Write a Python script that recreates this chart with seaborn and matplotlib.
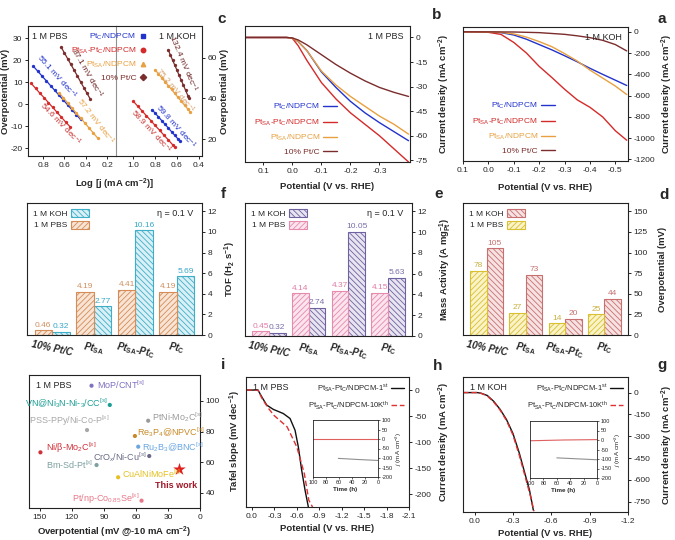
import numpy as np
import pandas as pd
import matplotlib
matplotlib.use("Agg")
import matplotlib.pyplot as plt
import seaborn as sns
from matplotlib.lines import Line2D
from matplotlib.patches import Patch
from matplotlib.ticker import FormatStrFormatter

# ---------------------------------------------------------------- data
names4 = ["Pt$_{\\mathrm{C}}$/NDPCM", "Pt$_{\\mathrm{SA}}$-Pt$_{\\mathrm{C}}$/NDPCM",
          "Pt$_{\\mathrm{SA}}$/NDPCM", "10% Pt/C"]
c_blue, c_red, c_orange, c_dred = "#2233cc", "#d42a2a", "#e8a040", "#7b2c2c"

# (a) LSV, 1 M KOH  (potential V vs RHE, current mA cm-2)
a_pot_ptc = [0.10, 0.00, -0.05, -0.10, -0.15, -0.20, -0.25, -0.30, -0.35, -0.40, -0.45, -0.50, -0.545]
a_cur_ptc = [0, -2, -8, -30, -70, -120, -170, -225, -282, -343, -400, -455, -505]
a_pot_ptsaptc = [0.10, 0.05, 0.00, -0.05, -0.10, -0.15, -0.20, -0.25, -0.30, -0.35, -0.40, -0.45, -0.50, -0.545]
a_cur_ptsaptc = [0, -1, -5, -25, -100, -200, -325, -430, -540, -640, -710, -800, -930, -1020]
a_pot_ptsa = [0.10, 0.00, -0.05, -0.10, -0.15, -0.20, -0.25, -0.30, -0.35, -0.40, -0.45, -0.50, -0.545]
a_cur_ptsa = [0, -1, -5, -20, -50, -92, -140, -205, -275, -360, -435, -510, -590]
a_pot_ptcc = [0.10, -0.10, -0.20, -0.30, -0.35, -0.40, -0.45, -0.50, -0.545]
a_cur_ptcc = [0, -2, -8, -24, -38, -55, -80, -120, -180]

# (b) LSV, 1 M PBS
b_pot = [0.163, 0.05, 0.02, 0.00, -0.02, -0.05, -0.10, -0.15, -0.20, -0.25, -0.30, -0.35, -0.40]
b_cur_ptc = [0, 0, 0, -0.3, -2.5, -8, -21, -30.5, -39, -46, -52, -57.5, -63]
b_cur_ptsaptc = [0, 0, 0, -0.5, -5, -14, -27.5, -37.5, -46, -53, -60, -68, -76]
b_cur_ptsa = [0, 0, 0, -0.3, -2.5, -8, -20.5, -29, -36, -42, -48, -53, -59]
b_cur_ptcc = [0, 0, 0, -0.3, -1.5, -4.5, -10.5, -16.5, -21.8, -26.5, -30.5, -33.5, -36]

# (c) Tafel plots  (log j, overpotential mV)
c_pbs_x_ptc = [0.89, 0.85, 0.81, 0.77, 0.73, 0.69, 0.65, 0.61, 0.57, 0.53, 0.49, 0.45]
c_pbs_y_ptc = [17.3, 15.1, 12.9, 10.7, 8.5, 6.3, 4.1, 1.9, -0.3, -2.5, -4.7, -6.9]
c_pbs_x_ptsaptc = [0.91, 0.87, 0.83, 0.79, 0.75, 0.71, 0.67, 0.63, 0.59, 0.55]
c_pbs_y_ptsaptc = [9.5, 7.3, 5.1, 3.0, 0.8, -1.4, -3.6, -5.8, -8.0, -10.1]
c_pbs_x_ptsa = [0.65, 0.61, 0.57, 0.53, 0.49, 0.45, 0.41, 0.37, 0.33, 0.29]
c_pbs_y_ptsa = [5.2, 2.9, 0.6, -1.7, -4.0, -6.2, -8.5, -10.8, -13.1, -15.4]
c_pbs_x_ptcc = [0.63, 0.60, 0.57, 0.54, 0.51, 0.48, 0.45, 0.42, 0.39, 0.36]
c_pbs_y_ptcc = [25.9, 23.3, 20.7, 18.1, 15.5, 12.9, 10.2, 7.6, 5.0, 2.4]
c_koh_x_ptc = [0.83, 0.80, 0.77, 0.74, 0.71, 0.68, 0.65, 0.62, 0.59, 0.57]
c_koh_y_ptc = [34.6, 32.8, 31.0, 29.2, 27.4, 25.6, 23.8, 22.0, 20.2, 19.0]
c_koh_x_ptsaptc = [1.00, 0.96, 0.92, 0.88, 0.84, 0.80, 0.76, 0.72, 0.68, 0.64, 0.62]
c_koh_y_ptsaptc = [38.6, 36.2, 33.9, 31.5, 29.2, 26.8, 24.5, 22.1, 19.8, 17.4, 16.2]
c_koh_x_ptsa = [0.80, 0.77, 0.74, 0.71, 0.68, 0.65, 0.62, 0.59, 0.56, 0.53, 0.50, 0.48]
c_koh_y_ptsa = [54.0, 52.0, 50.1, 48.2, 46.3, 44.4, 42.5, 40.5, 38.6, 36.7, 34.8, 33.5]
c_koh_x_ptcc = [0.68, 0.66, 0.64, 0.62, 0.60, 0.58, 0.56, 0.54, 0.52, 0.50, 0.49]
c_koh_y_ptcc = [63.7, 61.2, 58.7, 56.3, 53.8, 51.3, 48.8, 46.4, 43.9, 41.4, 40.2]
c_slopes_pbs = ["55.1", "54.6", "57.2", "87.1"]
c_slopes_koh = ["59.8", "58.9", "75.2", "132.4"]

# (d)-(f) bar charts
bar_cats = ["PtC", "PtSA-PtC", "PtSA", "10% Pt/C"]
bar_ticklabels = ["Pt$_{\\mathbf{C}}$", "Pt$_{\\mathbf{SA}}$-Pt$_{\\mathbf{C}}$",
                  "Pt$_{\\mathbf{SA}}$", "10% Pt/C"]
d_koh = [44, 20, 73, 105]
d_pbs = [25, 14, 27, 78]
e_koh = [5.63, 10.05, 2.74, 0.32]
e_pbs = [4.15, 4.37, 4.14, 0.45]
f_koh = [5.69, 10.16, 2.77, 0.32]
f_pbs = [4.19, 4.41, 4.19, 0.46]

# (g) stability, 1 M KOH
g_pot_1st = [0.09, -0.02, -0.05, -0.10, -0.15, -0.20, -0.25, -0.30, -0.35, -0.40, -0.43, -0.46]
g_cur_1st = [0, 0, -4, -20, -60, -115, -185, -280, -415, -575, -670, -808]
g_pot_10k = [0.09, -0.02, -0.05, -0.10, -0.15, -0.20, -0.25, -0.30, -0.35, -0.40, -0.44, -0.465]
g_cur_10k = [0, 0, -5, -23, -65, -120, -192, -290, -430, -590, -720, -815]
g_t_red = [0, 50, 100]
g_j_red = [2, 0, -4]
g_t_gray = [0, 30, 60]
g_j_gray = [-104, -99, -94]

# (h) stability, 1 M PBS
h_pot_1st = [0.08, -0.08, -0.13, -0.197, -0.285, -0.419, -0.509, -0.576, -0.62, -0.665, -0.71, -0.754]
h_cur_1st = [0, 0, -12.8, -28.8, -37, -45, -54.5, -77, -109, -154, -192, -224]
h_pot_10k = [0.08, -0.08, -0.13, -0.21, -0.29, -0.47, -0.60, -0.70, -0.76, -0.81]
h_cur_10k = [0, 0, -15, -33, -48, -70.5, -109, -160, -211, -224]
h_t_red = [0, 50, 100]
h_j_red = [0, 0, 0]
h_t_gray = [0, 30, 61]
h_j_gray = [-113, -108, -102]

# (i) comparison
i_names = ["MoP/CNT$^{[s]}$", "VN@Ni$_3$N-Ni-$_3$/CC$^{[s]}$", "PtNi-Mo$_2$C$^{[s]}$",
           "PSS-PPy/Ni-Co-P$^{[s]}$", "Re$_3$P$_4$@NPVC$^{[s]}$", "Ru$_2$B$_3$@BNC$^{[s]}$",
           "Ni/β-Mo$_2$C$^{[s]}$", "CrO$_x$/Ni-Cu$^{[s]}$", "Bm-Sd-Pt$^{[s]}$",
           "CuAlNiMoFe$^{[s]}$", "Pt/np-Co$_{0.85}$Se$^{[s]}$"]
i_eta = [101.5, 84.4, 48.5, 105.7, 60.9, 57.8, 149.3, 47.5, 96.8, 76.6, 54.7]
i_tafel = [110.0, 97.4, 87.1, 81.0, 77.1, 70.1, 66.4, 64.0, 58.1, 50.1, 34.8]
i_colors = ["#8070c0", "#1a9e94", "#9a9a9a", "#a8a8a8", "#c88a28", "#6aa6e0",
            "#d03038", "#6a6a88", "#7ea0a0", "#e6c020", "#e87888"]
this_eta = [19.4]
this_tafel = [55.3]

# ---------------------------------------------------------------- style
sns.set_style("ticks")
plt.rcParams["font.family"] = ["Liberation Sans", "DejaVu Sans"]
plt.rcParams.update({
    "mathtext.fontset": "custom", "mathtext.rm": "Liberation Sans",
    "mathtext.it": "Liberation Sans:italic", "mathtext.bf": "Liberation Sans:bold",
    "axes.unicode_minus": False, "hatch.linewidth": 0.6,
})

W, H = 675, 540
fig = plt.figure(figsize=(6.75, 5.4), dpi=100)


def box(l, t, r, b):
    return fig.add_axes([l / W, 1 - b / H, (r - l) / W, (b - t) / H])


def fx(x, y):
    return x / W, 1 - y / H


def style(ax, side="right", fs=6):
    for s in ax.spines.values():
        s.set_visible(True)
        s.set_linewidth(0.8)
        s.set_color("#222222")
    if side == "right":
        ax.yaxis.tick_right()
        ax.yaxis.set_label_position("right")
    ax.tick_params(labelsize=fs, length=2.5, width=0.7, pad=1.5, direction="out")


LBL = dict(fontsize=6.8, fontweight="bold")
cur_label = "Current density (mA cm$^{\\mathbf{-2}}$)"
pot_label = "Potential (V vs. RHE)"

# panel letters
for letter, (x, y) in zip("abcdefghi", [(662, 19), (437, 15), (222, 19), (664, 195), (439, 194),
                                       (223, 194), (662, 365), (438, 366), (223, 365)]):
    fig.text(*fx(x, y), letter, fontsize=11, fontweight="bold", ha="center", va="center")


# ---------------------------------------------------------------- (a), (b)
def lsv(ax, series, xlim, ylim, xticks, yticks, note, ylx, xly, fmt="%.1f"):
    style(ax)
    for lab, x, y, c in series:
        sns.lineplot(x=x, y=y, color=c, lw=1.0, ax=ax, sort=False, label=lab)
    ax.set_xlim(*xlim)
    ax.set_ylim(*ylim)
    ax.set_xticks(xticks)
    ax.set_yticks(yticks)
    ax.xaxis.set_major_formatter(FormatStrFormatter(fmt))
    ax.set_xlabel(pot_label, **LBL)
    ax.set_ylabel(cur_label, **LBL)
    ax.yaxis.set_label_coords(ylx, 0.5)
    ax.xaxis.set_label_coords(0.5, xly)
    ax.text(0.96, 0.955, note, transform=ax.transAxes, ha="right", va="top", fontsize=6.5)
    ax.legend(loc="lower right", bbox_to_anchor=(0.59, 0.0), markerfirst=False, frameon=False,
              fontsize=6, handlelength=1.6, labelspacing=0.62, handletextpad=0.4,
              labelcolor="linecolor", borderaxespad=0.3)


axA = box(463, 27, 628, 161)
lsv(axA, [(names4[0], a_pot_ptc, a_cur_ptc, c_blue),
          (names4[1], a_pot_ptsaptc, a_cur_ptsaptc, c_red),
          (names4[2], a_pot_ptsa, a_cur_ptsa, c_orange),
          (names4[3], a_pot_ptcc, a_cur_ptcc, c_dred)],
    (0.1, -0.55), (-1215, 45), [0.1, 0.0, -0.1, -0.2, -0.3, -0.4, -0.5],
    [0, -200, -400, -600, -800, -1000, -1200], "1 M KOH", 1.19, -0.165)

axB = box(245, 26, 410, 162)
lsv(axB, [(names4[0], b_pot, b_cur_ptc, c_blue),
          (names4[1], b_pot, b_cur_ptsaptc, c_red),
          (names4[2], b_pot, b_cur_ptsa, c_orange),
          (names4[3], b_pot, b_cur_ptcc, c_dred)],
    (0.163, -0.405), (-76, 7), [0.1, 0.0, -0.1, -0.2, -0.3],
    [0, -15, -30, -45, -60, -75], "1 M PBS", 1.16, -0.15)

# ---------------------------------------------------------------- (c)
axL = box(28, 26, 116, 156)
axR = box(116, 26, 202, 156)
style(axL, side="left")
style(axR, side="right")
axL.spines["right"].set_visible(False)
axR.spines["left"].set_color("#909090")
for ax, sets in [(axL, [(c_pbs_x_ptc, c_pbs_y_ptc, c_blue), (c_pbs_x_ptsaptc, c_pbs_y_ptsaptc, c_red),
                        (c_pbs_x_ptsa, c_pbs_y_ptsa, c_orange), (c_pbs_x_ptcc, c_pbs_y_ptcc, c_dred)]),
                 (axR, [(c_koh_x_ptc, c_koh_y_ptc, c_blue), (c_koh_x_ptsaptc, c_koh_y_ptsaptc, c_red),
                        (c_koh_x_ptsa, c_koh_y_ptsa, c_orange), (c_koh_x_ptcc, c_koh_y_ptcc, c_dred)])]:
    for x, y, c in sets:
        sns.lineplot(x=x, y=y, color=c, lw=0.9, marker="o", markersize=2.4,
                     markeredgewidth=0, ax=ax, sort=False)
axL.set_xlim(0.94, 0.12)
axL.set_xticks([0.8, 0.6, 0.4, 0.2])
axL.set_ylim(-23.5, 35.6)
axL.set_yticks([-20, -10, 0, 10, 20, 30])
axR.set_xlim(1.16, 0.37)
axR.set_xticks([1.0, 0.8, 0.6, 0.4])
axR.set_ylim(11.9, 75.4)
axR.set_yticks([20, 40, 60])
for ax in (axL, axR):
    ax.xaxis.set_major_formatter(FormatStrFormatter("%.1f"))
    ax.set_xlabel("")
axL.set_ylabel("Overpotential (mV)", **LBL)
axR.set_ylabel("Overpotential (mV)", **LBL)
axL.yaxis.set_label_coords(-0.2, 0.5)
axR.yaxis.set_label_coords(1.21, 0.5)
fig.text(*fx(115, 184), "Log [$\\mathbf{j}$ (mA cm$^{\\mathbf{-2}}$)]", ha="center", va="center", **LBL)
axL.text(0.05, 0.955, "1 M PBS", transform=axL.transAxes, ha="left", va="top", fontsize=6.5)
axR.text(0.93, 0.955, "1 M KOH", transform=axR.transAxes, ha="right", va="top", fontsize=6.5)
fig.legend(handles=[Line2D([], [], ls="none", marker=m, color=c, ms=3.2)
                    for m, c in zip(["s", "o", "^", "D"], [c_blue, c_red, c_orange, c_dred])],
           labels=names4, loc="upper right", bbox_to_anchor=fx(152, 26), frameon=False,
           markerfirst=False, fontsize=6, handlelength=0.8, handletextpad=0.4,
           labelspacing=0.45, borderpad=0.2, labelcolor=[c_blue, c_red, c_orange, c_dred])
dec = " mV dec$^{-1}$"
for txt, (x, y), rot, col in [
        (c_slopes_pbs[0], (57, 77), -48, c_blue), (c_slopes_pbs[1], (60, 124), -46, "#c83030"),
        (c_slopes_pbs[2], (96, 121), -52, c_orange), (c_slopes_pbs[3], (87, 73), -60, "#6b2424"),
        (c_slopes_koh[0], (176, 127), -48, c_blue), (c_slopes_koh[1], (151, 131), -47, "#c83030"),
        (c_slopes_koh[2], (175, 91), -50, "#d8a070"), (c_slopes_koh[3], (183, 64), -67, "#6b2424")]:
    fig.text(*fx(x, y), txt + dec, rotation=rot, rotation_mode="anchor", ha="center", va="center",
             fontsize=6, color=col)


# ---------------------------------------------------------------- (d)-(f)
def bars(ax, koh, pbs, fcs, ecs, lcs, ylim, yticks, ylabel, ylx, note=None):
    style(ax)
    df = pd.DataFrame({"cat": bar_cats * 2, "val": koh + pbs,
                       "elec": ["1 M KOH"] * 4 + ["1 M PBS"] * 4})
    sns.barplot(data=df, x="cat", y="val", hue="elec", order=bar_cats,
                hue_order=["1 M KOH", "1 M PBS"], palette=fcs, width=0.84, saturation=1,
                errorbar=None, legend=False, linewidth=0.8, ax=ax)
    hatches = ["\\\\\\\\\\\\", "//////"]
    for cont, ec, hatch, lc in zip(ax.containers, ecs, hatches, lcs):
        for p in cont:
            p.set_edgecolor(ec)
            p.set_hatch(hatch)
        ax.bar_label(cont, fmt="{:g}", fontsize=6, color=lc, padding=1)
    ax.set_xlim(3.6, -0.6)
    ax.set_ylim(*ylim)
    ax.set_yticks(yticks)
    ax.set_xticks(range(4))
    ax.set_xticklabels(bar_ticklabels, rotation=-12, fontsize=7, fontweight="bold",
                       fontstyle="italic", ha="center")
    ax.tick_params(axis="x", length=0, pad=3)
    ax.set_xlabel("")
    ax.set_ylabel(ylabel, **LBL)
    ax.yaxis.set_label_coords(ylx, 0.5)
    handles = [Patch(facecolor=fcs[k], edgecolor=ecs[k], hatch=hatches[k], lw=0.8) for k in range(2)]
    ax.legend(handles, ["1 M KOH", "1 M PBS"], loc="upper left", markerfirst=False, frameon=False,
              fontsize=6, handlelength=2.2, handleheight=1.1, labelspacing=0.35,
              handletextpad=0.4, borderaxespad=0.3)
    if note:
        ax.text(0.95, 0.955, note, transform=ax.transAxes, ha="right", va="top", fontsize=6.5)


axD = box(463, 203, 628, 335)
bars(axD, d_koh, d_pbs, ["#f6e2e2", "#faf3c8"], ["#c87070", "#d8c030"], ["#c87070", "#c8b040"],
     (0, 160), [0, 25, 50, 75, 100, 125, 150], "Overpotential (mV)", 1.18)
axE = box(245, 203, 412, 336)
bars(axE, e_koh, e_pbs, ["#e8e4f0", "#fbe4ee"], ["#6f62a0", "#e68aae"], ["#7a6eaa", "#e07ca6"],
     (0, 12.8), [0, 2, 4, 6, 8, 10, 12], "Mass Activity (A mg$^{\\mathbf{-1}}_{\\mathbf{Pt}}$)", 1.15,
     note="η = 0.1 V")
axF = box(27, 203, 202, 335)
bars(axF, f_koh, f_pbs, ["#d8f0f6", "#f8e4d4"], ["#40aec8", "#d48c58"], ["#38a8c8", "#d09060"],
     (0, 12.8), [0, 2, 4, 6, 8, 10, 12], "TOF (H$_{\\mathbf{2}}$ s$^{\\mathbf{-1}}$)", 1.12,
     note="η = 0.1 V")


# ---------------------------------------------------------------- (g), (h)
def stab(ax, p1, c1, p2, c2, xlim, ylim, xticks, yticks, note, ylx, xly):
    style(ax)
    sns.lineplot(x=p1, y=c1, color="#111111", lw=1.0, ax=ax, sort=False,
                 label="Pt$_{\\mathrm{SA}}$-Pt$_{\\mathrm{C}}$/NDPCM-1$^{\\mathrm{st}}$")
    sns.lineplot(x=p2, y=c2, color="#e03030", lw=1.0, ax=ax, sort=False,
                 label="Pt$_{\\mathrm{SA}}$-Pt$_{\\mathrm{C}}$/NDPCM-10K$^{\\mathrm{th}}$")
    ax.lines[1].set_linestyle((0, (4, 2)))
    ax.set_xlim(*xlim)
    ax.set_ylim(*ylim)
    ax.set_xticks(xticks)
    ax.set_yticks(yticks)
    ax.xaxis.set_major_formatter(FormatStrFormatter("%.1f"))
    ax.set_xlabel(pot_label, **LBL)
    ax.set_ylabel(cur_label, **LBL)
    ax.yaxis.set_label_coords(ylx, 0.5)
    ax.xaxis.set_label_coords(0.5, xly)
    ax.text(0.04, 0.955, note, transform=ax.transAxes, ha="left", va="top", fontsize=6.5)
    leg = ax.legend(loc="upper right", markerfirst=False, frameon=False, fontsize=5.5,
                    handlelength=1.6, labelspacing=0.7, handletextpad=0.4, borderaxespad=0.3)
    leg.get_lines()[1].set_linestyle((0, (4, 2)))


def inset(rect, tr, jr, tg, jg):
    ax = box(*rect)
    style(ax, fs=4)
    ax.tick_params(length=1.5, pad=1, width=0.5)
    for s in ax.spines.values():
        s.set_linewidth(0.6)
    sns.lineplot(x=tr, y=jr, color="#e06060", lw=0.8, ax=ax)
    sns.lineplot(x=tg, y=jg, color="#909090", lw=0.8, ax=ax)
    ax.set_xlim(100, 0)
    ax.set_ylim(-200, 100)
    ax.set_xticks([100, 80, 60, 40, 20, 0])
    ax.set_yticks([100, 50, 0, -50, -100, -150, -200])
    ax.set_xlabel("Time (h)", fontsize=4.5, fontweight="bold", labelpad=1)
    ax.set_ylabel("$j$ (mA cm$^{-2}$)", fontsize=4.5, labelpad=1)


axG = box(463, 377, 628, 512)
stab(axG, g_pot_1st, g_cur_1st, g_pot_10k, g_cur_10k, (0.09, -1.2), (-820, 107),
     [0.0, -0.3, -0.6, -0.9, -1.2], [0, -150, -300, -450, -600, -750], "1 M KOH", 1.19, -0.125)
inset((530, 421, 597, 478), g_t_red, g_j_red, g_t_gray, g_j_gray)

axH = box(246, 377, 409, 507)
stab(axH, h_pot_1st, h_cur_1st, h_pot_10k, h_cur_10k, (0.08, -2.1), (-224, 25),
     [0.0, -0.3, -0.6, -0.9, -1.2, -1.5, -1.8, -2.1], [0, -50, -100, -150, -200], "1 M PBS", 1.17, -0.13)
inset((313, 420, 378, 477), h_t_red, h_j_red, h_t_gray, h_j_gray)

# ---------------------------------------------------------------- (i)
axI = box(29, 375, 200, 508)
style(axI)
dfi = pd.DataFrame({"eta": i_eta, "tafel": i_tafel, "name": i_names})
sns.scatterplot(data=dfi, x="eta", y="tafel", hue="name", palette=i_colors, s=9, linewidth=0,
                legend=False, ax=axI)
sns.scatterplot(x=this_eta, y=this_tafel, marker="*", s=90, color="#e02020", linewidth=0, ax=axI)
i_text_pos = [(96.8, 110.5, "left"), (86.2, 98.7, "right"), (45.3, 89.5, "left"),
              (84.4, 86.9, "right"), (59.3, 79.7, "left"), (54.7, 69.9, "left"),
              (143.7, 69.2, "left"), (50.0, 63.4, "right"), (100.0, 58.1, "right"),
              (73.4, 52.2, "left"), (56.2, 35.9, "right")]
for name, col, (tx, ty, ha) in zip(i_names, i_colors, i_text_pos):
    axI.text(tx, ty, name, color=col, fontsize=6.5, ha=ha, va="center")
axI.text(22.5, 45, "This work", color="#a01828", fontsize=6.5, fontweight="bold", ha="center", va="center")
axI.text(0.04, 0.955, "1 M PBS", transform=axI.transAxes, ha="left", va="top", fontsize=6.5)
axI.set_xlim(160, 0)
axI.set_ylim(30, 117)
axI.set_xticks([150, 120, 90, 60, 30, 0])
axI.set_yticks([40, 60, 80, 100])
axI.set_xlabel("Overpotential (mV @-10 mA cm$^{\\mathbf{-2}}$)", **LBL)
axI.set_ylabel("Tafel slope (mV dec$^{\\mathbf{-1}}$)", **LBL)
axI.yaxis.set_label_coords(1.16, 0.5)
axI.xaxis.set_label_coords(0.5, -0.125)

fig.savefig("out.png", dpi=100)
